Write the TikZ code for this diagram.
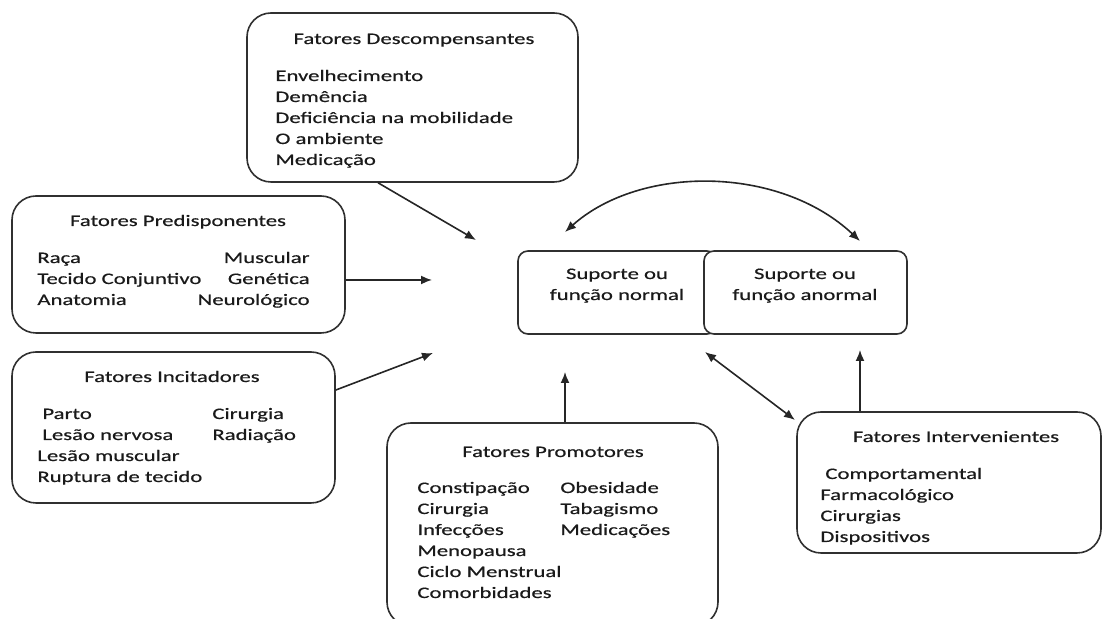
\documentclass[tikz,border=0pt]{standalone}
\usepackage{fontspec}
\setmainfont{Carlito}[FakeStretch=1.42,FakeBold=0.5]
\usetikzlibrary{arrows.meta,positioning,calc,fit}
\definecolor{inkline}{HTML}{303030}
\definecolor{inktext}{HTML}{1A1A1A}
\newcommand{\colL}[1]{\begin{tabular}[t]{@{}l@{}}#1\end{tabular}}
\newcommand{\colR}[1]{\begin{tabular}[t]{@{}r@{}}#1\end{tabular}}
\newcommand{\colC}[1]{\begin{tabular}[t]{@{}c@{}}#1\end{tabular}}

\begin{document}
\begin{tikzpicture}[
    x=0.5pt,y=-0.5pt,
    factor/.style={
        draw=inkline,
        fill=white,
        line width=0.8pt,
        rounded corners=12pt,
        inner sep=0pt,
    },
    state/.style={
        factor,
        rounded corners=5pt,
    },
    label/.style={
        font=\fontsize{8}{10.5}\selectfont,
        text=inktext,
        inner sep=0pt,
        anchor=base,
    },
    entry/.style={label,anchor=base west},
    rentry/.style={label,anchor=base east},
    link/.style={
        -{Latex[length=5.5pt,width=4.5pt]},
        line width=0.8pt,
        draw=black!85,
    },
    dlink/.style={
        link,
        {Latex[length=5.5pt,width=4.5pt]}-{Latex[length=5.5pt,width=4.5pt]},
    },
]
\useasboundingbox (0,0) rectangle (1105,619);

% boxes
\node[factor,fit={(247,13) (578,182)}] (dsc) {};
\node[factor,fit={(12,196) (345,333)}] (pre) {};
\node[factor,fit={(12,352) (335,503)}] (inc) {};
\node[factor,fit={(387,423) (718,626)}] (pro) {};
\node[factor,fit={(797,412) (1101,553)}] (itv) {};
\node[state,fit={(518,251) (717,334)}] (nor) {};
\node[state,fit={(704,251) (907,334)}] (abn) {};

% texts
\node[label] (dsc-t) at (414,44) {Fatores Descompensantes};
\node[entry] (dsc-l) at (275,81) {\colL{Envelhecimento\\Demência\\Deficiência na mobilidade\\O ambiente\\Medicação}};

\node[label] (pre-t) at (178,226) {Fatores Predisponentes};
\node[entry] (pre-l) at (37,263) {\colL{Raça\\Tecido Conjuntivo\\Anatomia}};
\node[rentry] (pre-r) at (310,263) {\colR{Muscular\\Genética\\Neurológico}};

\node[label] (inc-t) at (172,382) {Fatores Incitadores};
\node[entry] (inc-l) at (37,419) {\colL{\hspace{2.5pt}Parto\\\hspace{2.5pt}Lesão nervosa\\Lesão muscular\\Ruptura de tecido}};
\node[entry] (inc-r) at (212,419) {\colL{Cirurgia\\Radiação}};

\node[label] (nor-t) at (617,279) {\colC{Suporte ou\\função normal}};
\node[label] (abn-t) at (805,279) {\colC{Suporte ou\\função anormal}};

\node[label] (pro-t) at (553,457) {Fatores Promotores};
\node[entry] (pro-l) at (417,493) {\colL{Constipação\\Cirurgia\\Infecções\\Menopausa\\Ciclo Menstrual\\Comorbidades}};
\node[entry] (pro-r) at (560,493) {\colL{Obesidade\\Tabagismo\\Medicações}};

\node[label] (itv-t) at (956,442) {Fatores Intervenientes};
\node[entry] (itv-l) at (820,479) {\colL{\hspace{2.5pt}Comportamental\\Farmacológico\\Cirurgias\\Dispositivos}};

% arrow ends
\coordinate (hub1) at (476,240);
\coordinate (hub2) at (432,280);
\coordinate (hub3) at (433,353);
\coordinate (hub4) at (565,372);
\coordinate (hub5) at (860,350);
\coordinate (tipA) at (705,352);
\coordinate (tipB) at (795,420);
\coordinate (arcL) at (565,232);
\coordinate (arcR) at (860,241);

% connectors
\draw[link] (dsc.248) -- (hub1);
\draw[link] (pre.east |- hub2) -- (hub2);
\draw[link] (inc.13.7) -- (hub3);
\draw[link] (hub4 |- pro.north) -- (hub4);
\draw[link] (hub5 |- itv.north) -- (hub5);
\draw[dlink] (tipA) -- (tipB);
\draw[dlink] (arcL) .. controls (640,165) and (779,165) .. (arcR);
\end{tikzpicture}
\end{document}
